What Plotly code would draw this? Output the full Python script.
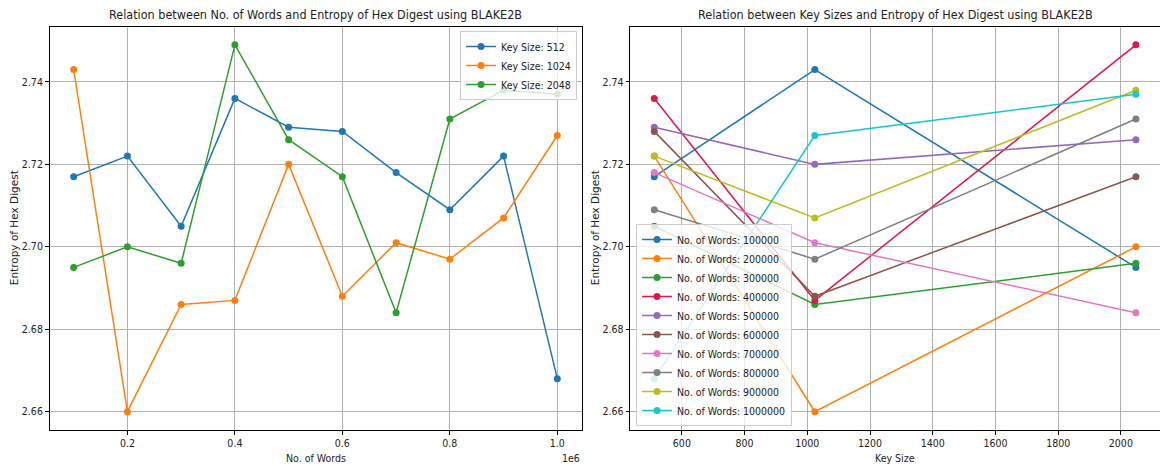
import plotly.graph_objects as go

# Number of words hashed and the key sizes used
word_counts = [100000, 200000, 300000, 400000, 500000,
               600000, 700000, 800000, 900000, 1000000]
key_sizes = [512, 1024, 2048]

# Entropy of the hex digest for each key size, one value per word count
entropy_512 = [2.717, 2.722, 2.705, 2.736, 2.729, 2.728, 2.718, 2.709, 2.722, 2.668]
entropy_1024 = [2.743, 2.660, 2.686, 2.687, 2.720, 2.688, 2.701, 2.697, 2.707, 2.727]
entropy_2048 = [2.695, 2.700, 2.696, 2.749, 2.726, 2.717, 2.684, 2.731, 2.738, 2.737]

y_ticks = [2.66, 2.68, 2.70, 2.72, 2.74]
left_x_ticks = [200000, 400000, 600000, 800000, 1000000]
left_x_labels = ["0.2", "0.4", "0.6", "0.8", "1.0"]
right_x_ticks = [600, 800, 1000, 1200, 1400, 1600, 1800, 2000]

key_colors = ["#1f77b4", "#ff7f0e", "#2ca02c"]
word_colors = ["#1f77b4", "#ff7f0e", "#2ca02c", "#e0174a", "#9467bd",
               "#8c564b", "#e377c2", "#7f7f7f", "#bcbd22", "#17c6cf"]

W, H = 1160, 466
TICK_FONT = "Liberation Sans Narrow, DejaVu Sans Condensed, DejaVu Sans, sans-serif"
LABEL_FONT = "DejaVu Sans, sans-serif"

fig = go.Figure()

by_key = [entropy_512, entropy_1024, entropy_2048]
for ks, vals, col in zip(key_sizes, by_key, key_colors):
    fig.add_trace(go.Scatter(
        x=word_counts, y=vals, mode="lines+markers",
        name=f"Key Size: {ks}",
        line=dict(color=col, width=1.5),
        marker=dict(color=col, size=7),
        xaxis="x", yaxis="y", legend="legend",
    ))

for i, n in enumerate(word_counts):
    vals = [series[i] for series in by_key]
    fig.add_trace(go.Scatter(
        x=key_sizes, y=vals, mode="lines+markers",
        name=f"No. of Words: {n}",
        line=dict(color=word_colors[i], width=1.5),
        marker=dict(color=word_colors[i], size=7),
        xaxis="x2", yaxis="y2", legend="legend2",
    ))

# axes geometry in pixels
L_X0, L_X1 = 49.5, 581.5
R_X0, R_X1 = 630.2, 1160
Y_TOP, Y_BOT = 26.5, 430

def px_x(v):
    return v / W

def px_y(v):
    return (H - v) / H

common_axis = dict(
    showgrid=True, gridcolor="#b0b0b0", gridwidth=0.8,
    showline=True, linecolor="black", linewidth=1, mirror=True,
    ticks="outside", ticklen=3.5, tickwidth=0.8, tickcolor="black",
    zeroline=False,
    tickfont=dict(family=TICK_FONT, size=10.5, color="#222222"),
)

fig.update_layout(
    width=W, height=H, autosize=False,
    margin=dict(l=0, r=0, t=0, b=0),
    paper_bgcolor="white", plot_bgcolor="white",
    font=dict(family=TICK_FONT, size=10.5, color="#222222"),
    xaxis=dict(domain=[px_x(L_X0), px_x(L_X1)], range=[55000, 1045000],
               tickmode="array", tickvals=left_x_ticks, ticktext=left_x_labels,
               anchor="y", **common_axis),
    yaxis=dict(domain=[px_y(Y_BOT), px_y(Y_TOP)], range=[2.65555, 2.75345],
               tickmode="array", tickvals=y_ticks,
               ticktext=[f"{v:.2f}" for v in y_ticks],
               anchor="x", **common_axis),
    xaxis2=dict(domain=[px_x(R_X0), px_x(R_X1)], range=[435.2, 2124.8],
                tickmode="array", tickvals=right_x_ticks,
                anchor="y2", **common_axis),
    yaxis2=dict(domain=[px_y(Y_BOT), px_y(Y_TOP)], range=[2.65555, 2.75345],
                tickmode="array", tickvals=y_ticks,
                ticktext=[f"{v:.2f}" for v in y_ticks],
                anchor="x2", **common_axis),
    legend=dict(x=px_x(577), y=px_y(31), xanchor="right", yanchor="top",
                bgcolor="rgba(255,255,255,0.8)", bordercolor="#cccccc",
                borderwidth=1, font=dict(family=TICK_FONT, size=10.5)),
    legend2=dict(x=px_x(636), y=px_y(426), xanchor="left", yanchor="bottom",
                 bgcolor="rgba(255,255,255,0.8)", bordercolor="#cccccc",
                 borderwidth=1, font=dict(family=TICK_FONT, size=10.5)),
    showlegend=True,
)

def text(x, y, s, size, family=TICK_FONT, angle=0, xanchor="center"):
    fig.add_annotation(x=px_x(x), y=px_y(y), xref="paper", yref="paper",
                       text=s, showarrow=False, textangle=angle,
                       xanchor=xanchor, yanchor="middle",
                       font=dict(family=family, size=size, color="#222222"))

# titles
text((L_X0 + L_X1) / 2, 14,
     "Relation between No. of Words and Entropy of Hex Digest using BLAKE2B", 12.5)
text((R_X0 + R_X1) / 2, 14,
     "Relation between Key Sizes and Entropy of Hex Digest using BLAKE2B", 12.5)
# axis labels
text((L_X0 + L_X1) / 2, 458, "No. of Words", 10.5)
text((R_X0 + R_X1) / 2, 458, "Key Size", 10.5)
text(14, (Y_TOP + Y_BOT) / 2, "Entropy of Hex Digest", 10.5, LABEL_FONT, -90)
text(595, (Y_TOP + Y_BOT) / 2, "Entropy of Hex Digest", 10.5, LABEL_FONT, -90)
# offset text for the scaled x axis
text(L_X1, 458, "1e6", 10.5, xanchor="right")

fig.write_html("out.html")
